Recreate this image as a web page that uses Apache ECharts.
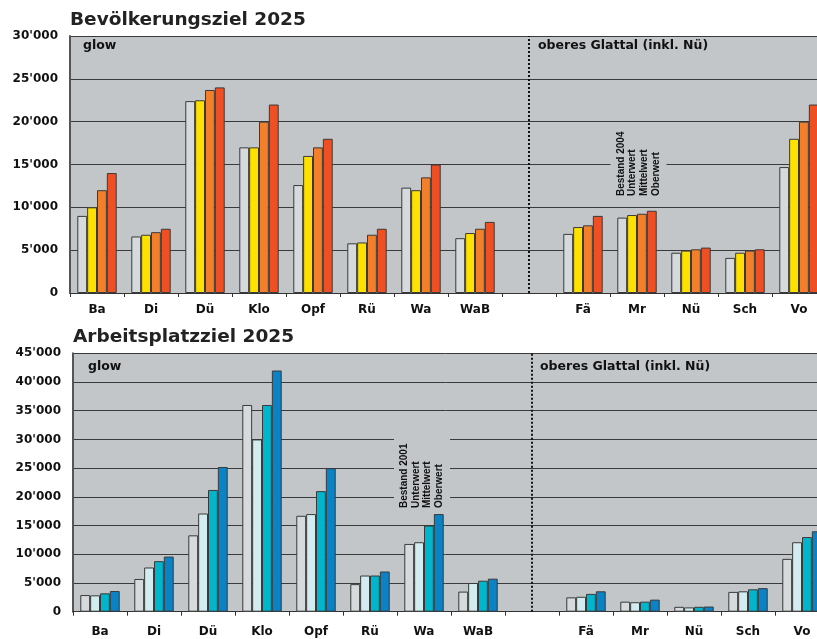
<!DOCTYPE html>
<html><head><meta charset="utf-8">
<script src="https://cdn.jsdelivr.net/npm/echarts@6/dist/echarts.min.js"></script>
<style>html,body{margin:0;padding:0;background:#fff}#c{width:817px;height:639px}</style>
</head><body><div id="c"></div>
<script>
// ---------- data ----------
const categories = ['Ba','Di','Dü','Klo','Opf','Rü','Wa','WaB',' ','Fä','Mr','Nü','Sch','Vo'];
const titles = ['Bevölkerungsziel 2025', 'Arbeitsplatzziel 2025'];
const groupLabels = ['glow', 'oberes Glattal (inkl. Nü)'];

const popNames = ['Bestand 2004','Unterwert','Mittelwert','Oberwert'];
const popBestand = [9000, 6600, 22400, 17000, 12600, 5800, 12300, 6400, null, 6900, 8800, 4700, 4100, 14700];
const popUnter   = [10000,6800, 22500, 17000, 16000, 5900, 12000, 7000, null, 7700, 9100, 4950, 4700, 18000];
const popMittel  = [12000,7100, 23700, 20000, 17000, 6800, 13500, 7500, null, 7900, 9250, 5100, 4950, 20000];
const popOber    = [14000,7500, 24000, 22000, 18000, 7500, 15000, 8300, null, 9000, 9600, 5300, 5100, 22000];

const jobNames = ['Bestand 2001','Unterwert','Mittelwert','Oberwert'];
const jobBestand = [2900, 5700, 13300, 36000, 16700, 4800, 11800, 3500, null, 2500, 1750, 850, 3450, 9200];
const jobUnter   = [2850, 7700, 17100, 30000, 17000, 6300, 12100, 5000, null, 2600, 1650, 750, 3550, 12100];
const jobMittel  = [3200, 8800, 21200, 36000, 21000, 6300, 15000, 5400, null, 3100, 1750, 850, 3900, 13000];
const jobOber    = [3600, 9600, 25200, 42000, 25000, 7000, 17000, 5750, null, 3550, 2100, 900, 4100, 14000];

const popTickLabels = ['0',"5'000","10'000","15'000","20'000","25'000","30'000"];
const jobTickLabels = ['0',"5'000","10'000","15'000","20'000","25'000","30'000","35'000","40'000","45'000"];

// ---------- styling ----------
const plotBg = '#c2c6c8';
const popColors = ['#d6dadc','#ffe100','#f47f2b','#ee5024'];
const jobColors = ['#d6dadc','#d2ecef','#00b5cc','#0a82c6'];
const sepIndex = categories.indexOf(' ');

function makeSeries(names, arrays, colors, idx) {
  const list = arrays.map((arr, i) => ({
    type: 'bar', name: names[i], data: arr,
    xAxisIndex: idx, yAxisIndex: idx,
    barGap: '0%', barCategoryGap: '27%',
    itemStyle: { color: colors[i], borderColor: '#3a3a3a', borderWidth: 1 },
    emphasis: { disabled: true }
  }));
  // separator line carried by an empty line series (so it sits at the category centre)
  list.push({
    type: 'line', data: [], xAxisIndex: idx, yAxisIndex: idx, silent: true,
    markLine: {
      silent: true, symbol: 'none', animation: false,
      label: { show: false },
      lineStyle: { type: 'dotted', color: '#111', width: 2 },
      data: [{ xAxis: sepIndex }]
    }
  });
  return list;
}

function yAxis(idx, max, labels) {
  return {
    gridIndex: idx, type: 'value', min: 0, max: max, interval: 5000,
    axisLine: { show: true, lineStyle: { color: '#555', width: 2 } },
    axisTick: { show: false },
    splitLine: { show: true, lineStyle: { color: '#3a3a3a', width: 1 } },
    axisLabel: {
      margin: 12, color: '#111', fontFamily: 'DejaVu Sans', fontWeight: 'bold', fontSize: 12,
      formatter: v => labels[Math.round(v / 5000)]
    }
  };
}
function xAxis(idx, margin) {
  return {
    gridIndex: idx, type: 'category', data: categories,
    axisLine: { show: true, lineStyle: { color: '#333', width: 1 } },
    axisTick: { show: true, length: 4, lineStyle: { color: '#333' } },
    axisLabel: { margin: margin, color: '#111', fontFamily: 'DejaVu Sans', fontWeight: 'bold', fontSize: 12, interval: 0 }
  };
}

const textFont = 'bold 10px "Liberation Sans", Arial, sans-serif';
function annot(cx, bottom, names) {
  const els = [{
    type: 'rect', z: 5, silent: true,
    shape: { x: cx - 27.5, y: bottom - 72, width: 56, height: 76 },
    style: { fill: plotBg }
  }];
  names.forEach((n, i) => {
    els.push({
      type: 'text', z: 6, silent: true,
      x: cx - 17 + i * 11.6, y: bottom, rotation: Math.PI / 2,
      style: { text: n, font: textFont, fill: '#111', align: 'left', verticalAlign: 'middle' }
    });
  });
  return els;
}

const chart = echarts.init(document.getElementById('c'), null, { renderer: 'canvas' });
chart.setOption({
  animation: false,
  grid: [
    { left: 70, top: 36, width: 756, height: 257, show: true, backgroundColor: plotBg, borderWidth: 0, outerBoundsMode: 'none', containLabel: false },
    { left: 73, top: 353.3, width: 756, height: 258.4, show: true, backgroundColor: plotBg, borderWidth: 0, outerBoundsMode: 'none', containLabel: false }
  ],
  xAxis: [xAxis(0, 11), xAxis(1, 14)],
  yAxis: [yAxis(0, 30000, popTickLabels), yAxis(1, 45000, jobTickLabels)],
  series: [].concat(
    makeSeries(popNames, [popBestand, popUnter, popMittel, popOber], popColors, 0),
    makeSeries(jobNames, [jobBestand, jobUnter, jobMittel, jobOber], jobColors, 1)
  ),
  graphic: [].concat([
    { type: 'text', x: 70, y: 20, silent: true,
      style: { text: titles[0], font: 'bold 18.5px "DejaVu Sans"', fill: '#222', align: 'left', verticalAlign: 'middle' } },
    { type: 'text', x: 73, y: 337, silent: true,
      style: { text: titles[1], font: 'bold 18.5px "DejaVu Sans"', fill: '#222', align: 'left', verticalAlign: 'middle' } },
    { type: 'text', x: 83, y: 46, z: 6, silent: true,
      style: { text: groupLabels[0], font: 'bold 12.5px "DejaVu Sans"', fill: '#111', align: 'left', verticalAlign: 'middle' } },
    { type: 'text', x: 538, y: 46, z: 6, silent: true,
      style: { text: groupLabels[1], font: 'bold 12.5px "DejaVu Sans"', fill: '#111', align: 'left', verticalAlign: 'middle' } },
    { type: 'text', x: 88, y: 367, z: 6, silent: true,
      style: { text: groupLabels[0], font: 'bold 12.5px "DejaVu Sans"', fill: '#111', align: 'left', verticalAlign: 'middle' } },
    { type: 'text', x: 540, y: 367, z: 6, silent: true,
      style: { text: groupLabels[1], font: 'bold 12.5px "DejaVu Sans"', fill: '#111', align: 'left', verticalAlign: 'middle' } }
  ], annot(638, 196, popNames), annot(421.5, 508, jobNames))
});
</script></body></html>
